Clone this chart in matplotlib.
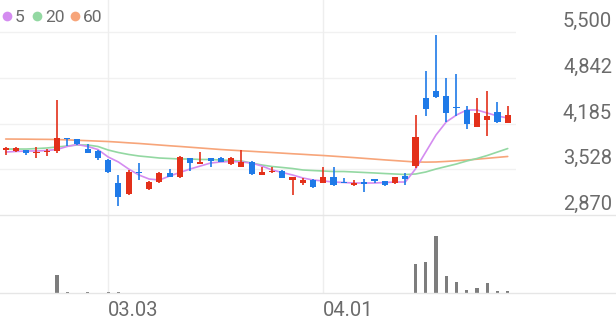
import matplotlib
matplotlib.use("Agg")
import matplotlib.pyplot as plt
from matplotlib.lines import Line2D
import numpy as np

# ---------------- data ----------------
x_tick_idx = [10, 31]
x_tick_labels = ["03.03", "04.01"]

opens = [3800, 3790, 3800, 3760, 3775, 3790, 3975, 3960, 3820, 3790,
         3660, 3330, 3170, 3490, 3245, 3345, 3475, 3415, 3690, 3605,
         3690, 3690, 3605, 3560, 3630, 3445, 3490, 3505, 3375, 3330,
         3375, 3330, 3415, 3345, 3300, 3345, 3390, 3360, 3330, 3430,
         3575, 4550, 4650, 4580, 4420, 4380, 4135, 4235, 4350, 4190]
highs = [3850, 3845, 3805, 3845, 3820, 4525, 3980, 3965, 3890, 3805,
         3670, 3445, 3515, 3615, 3360, 3490, 3530, 3720, 3690, 3775,
         3690, 3700, 3705, 3805, 3645, 3560, 3560, 3515, 3415, 3400,
         3390, 3560, 3560, 3400, 3375, 3390, 3390, 3360, 3420, 3475,
         4305, 4940, 5455, 4840, 4895, 4435, 4550, 4650, 4495, 4435]
lows = [3730, 3775, 3730, 3690, 3720, 3760, 3860, 3880, 3760, 3660,
        3475, 3000, 3160, 3375, 3230, 3330, 3415, 3400, 3500, 3605,
        3560, 3630, 3590, 3560, 3445, 3445, 3475, 3400, 3160, 3300,
        3260, 3330, 3285, 3330, 3285, 3200, 3330, 3285, 3315, 3300,
        3545, 4295, 4550, 4205, 4295, 4105, 4135, 4005, 4190, 4190]
closes = [3830, 3830, 3760, 3775, 3790, 3975, 3960, 3890, 3760, 3690,
          3490, 3130, 3490, 3475, 3345, 3475, 3415, 3705, 3615, 3630,
          3645, 3630, 3690, 3630, 3460, 3490, 3505, 3400, 3415, 3375,
          3270, 3415, 3300, 3330, 3330, 3315, 3360, 3300, 3415, 3390,
          3990, 4395, 4565, 4335, 4405, 4180, 4335, 4295, 4205, 4305]

ma5 = [3775, 3783, 3790, 3790, 3797, 3811, 3855, 3883, 3855, 3811,
       3704, 3632, 3531, 3445, 3387, 3373, 3430, 3481, 3531, 3574,
       3617, 3632, 3639, 3632, 3617, 3574, 3517, 3481, 3445, 3402,
       3373, 3359, 3344, 3337, 3330, 3330, 3330, 3337, 3344, 3344,
       3531, 3775, 4020, 4207, 4307, 4379, 4379, 4336, 4293, 4264]
ma20 = [3818, 3818, 3818, 3825, 3833, 3847, 3862, 3876, 3876, 3855,
        3804, 3768, 3740, 3718, 3704, 3689, 3682, 3675, 3675, 3668,
        3668, 3660, 3653, 3646, 3617, 3589, 3567, 3553, 3538, 3517,
        3509, 3502, 3495, 3495, 3488, 3481, 3474, 3466, 3459, 3452,
        3459, 3488, 3531, 3567, 3603, 3646, 3682, 3725, 3775, 3825]
ma60 = [3962, 3961, 3960, 3958, 3957, 3955, 3950, 3944, 3938, 3932,
        3926, 3917, 3907, 3898, 3887, 3876, 3865, 3855, 3844, 3833,
        3822, 3811, 3802, 3793, 3785, 3776, 3768, 3759, 3750, 3742,
        3733, 3725, 3715, 3705, 3695, 3684, 3673, 3662, 3652, 3642,
        3632, 3630, 3632, 3640, 3650, 3660, 3672, 3685, 3698, 3711]

volumes = [3, 2, 2, 3, 3, 180, 8, 4, 12, 5,
           8, 10, 5, 4, 3, 3, 2, 5, 3, 2,
           2, 2, 3, 3, 5, 2, 2, 2, 3, 2,
           2, 3, 2, 2, 2, 3, 2, 2, 3, 3,
           290, 310, 570, 170, 110, 30, 50, 100, 20, 20]

y_ticks = [5500, 4842.5, 4185, 3527.5, 2870]
y_tick_labels = ["5,500", "4,842", "4,185", "3,528", "2,870"]

legend_labels = ["5", "20", "60"]

# ---------------- style ----------------
RED = "#e3301a"
BLUE = "#1f7ae8"
C5 = "#d48cf0"
C20 = "#93d8a2"
C60 = "#f7a57a"
TXT = "#6b6b6b"
GRID = "#f1f1f1"
plt.rcParams["font.family"] = ["Roboto", "DejaVu Sans"]

W, H = 616, 321
fig = plt.figure(figsize=(W / 100, H / 100), dpi=100)
fig.patch.set_facecolor("white")

def fx(px):
    return px / W

def fy(py):
    return 1 - py / H

plot_right = 516
ax = fig.add_axes([0, fy(215), fx(plot_right), 215 / H])
axv = fig.add_axes([0, fy(293), fx(plot_right), 78 / H])

n = len(closes)
idx = np.arange(n)
x0 = -5.7 / 10.245
x1 = (plot_right - 5.7) / 10.245

# price panel
ax.set_xlim(x0, x1)
ax.set_ylim(2870, 5500 + 32 * (5500 - 2870) / 183)
for t in y_ticks[:-1]:
    ax.axhline(t, color=GRID, lw=1.0, zorder=0)
for xi in x_tick_idx:
    ax.axvline(xi, color="#eeeeee", lw=1.0, zorder=0)
    axv.axvline(xi, color="#eeeeee", lw=1.0, zorder=0)

ax.plot(idx, ma60, color=C60, lw=1.2, zorder=2, solid_capstyle="round")
ax.plot(idx, ma20, color=C20, lw=1.2, zorder=2, solid_capstyle="round")
ax.plot(idx, ma5, color=C5, lw=1.2, zorder=2, solid_capstyle="round")

o = np.array(opens, float)
c = np.array(closes, float)
h = np.array(highs, float)
l = np.array(lows, float)
up = c >= o
colors = np.where(up, RED, BLUE)
ax.vlines(idx, l, h, colors=colors, lw=1.2, zorder=3)
body_bottom = np.minimum(o, c)
body_h = np.maximum(np.abs(c - o), 14)
ax.bar(idx, body_h, bottom=body_bottom, width=0.6, color=colors, zorder=4, linewidth=0)

ax.axis("off")

# volume panel
axv.set_xlim(x0, x1)
axv.set_ylim(0, max(volumes) * 78 / 57)
axv.bar(idx, volumes, width=0.32, color="#7d7d7d", linewidth=0, zorder=3)
axv.axis("off")

# full-width separator lines
fig.add_artist(Line2D([0, 1], [fy(215), fy(215)], color="#e6e6e6", lw=1.0))
fig.add_artist(Line2D([0, 1], [fy(293), fy(293)], color="#e6e6e6", lw=1.0))

# y labels (right side)
for t, lab in zip(y_ticks, y_tick_labels):
    py = 32 + (5500 - t) * 183 / (5500 - 2870)
    fig.text(fx(612), fy(py - 5), lab, ha="right", va="baseline",
             fontsize=14.5, color=TXT)

# x labels
for xi, lab in zip(x_tick_idx, x_tick_labels):
    px = 5.7 + 10.245 * xi
    fig.text(fx(px), fy(316), lab, ha="left", va="baseline",
             fontsize=14.5, color=TXT)

# legend
leg_dots = [7, 37, 75]
for (dx, lab, col) in zip(leg_dots, legend_labels, [C5, C20, C60]):
    fig.add_artist(Line2D([fx(dx)], [fy(15.5)], marker="o", markersize=7,
                          color=col, markeredgewidth=0))
    fig.text(fx(dx + 8), fy(22), lab, ha="left", va="baseline",
             fontsize=12.5, color=TXT)

fig.savefig("out.png", dpi=100, facecolor="white")
